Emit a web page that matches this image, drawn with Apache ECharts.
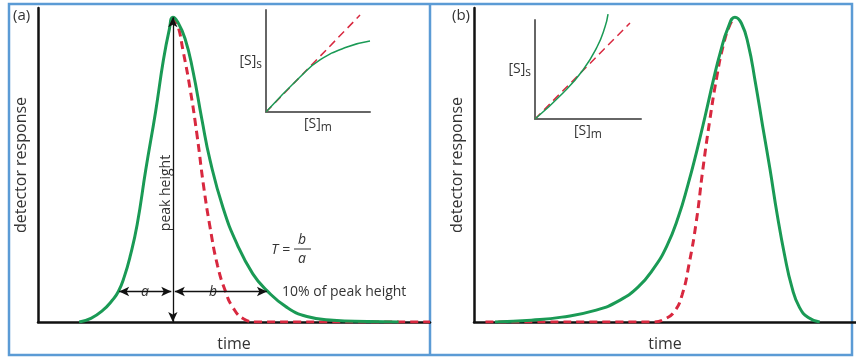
<!DOCTYPE html>
<html>
<head>
<meta charset="utf-8">
<script src="https://cdn.jsdelivr.net/npm/echarts@6/dist/echarts.min.js"></script>
<style>
  html, body { margin: 0; padding: 0; background: #fff; }
  #chart { width: 856px; height: 357px; }
</style>
</head>
<body>
<div id="chart"></div>
<script>
// (a) tailing peak: [time, response % of peak]
const tailingPeak = [
  [10.5, 0], [13.5, 1.2], [16.5, 3.8], [19, 7.2], [20.5, 10], [22, 14.8], [23.5, 21.5],
  [25.3, 32], [27.5, 50], [30, 69], [32, 86], [33.5, 96], [34.4, 100], [35.6, 98.5],
  [37.5, 93], [39.5, 82.5], [41.8, 66.5], [43.9, 53], [47.2, 37.5], [50.8, 25.5],
  [54.8, 15.8], [58.4, 10.3], [63.5, 4.8], [68.6, 1.8], [75.3, 0.6], [84, 0.2], [92, 0]
];
const idealA = [
  [34.4, 100], [35.6, 97.5], [37.0, 89], [38.8, 76.5], [40.6, 61], [42.2, 45],
  [43.9, 31], [45.8, 18.5], [47.7, 10.5], [49.7, 4.8], [52.5, 1], [55.9, 0], [100, 0]
];
// (b) fronting peak
const frontingPeak = [
  [5.5, 0], [15, 0.6], [23, 1.6], [32, 3.9], [38, 7], [43, 11.5], [47, 17.5],
  [50.5, 25], [53.5, 34.5], [56, 45], [58.3, 56], [60.5, 67.5], [62.6, 79],
  [64.5, 88.5], [66.5, 96.5], [68.3, 100], [70, 98], [71.8, 91], [73.6, 79],
  [75.6, 64], [77.5, 50], [79.4, 35], [81.3, 22], [83.2, 11.5], [85.2, 4.8],
  [87.5, 1.5], [90.5, 0]
];
const idealB = [
  [3, 0], [47, 0], [50, 1], [52.5, 3.5], [54.5, 9], [56.3, 19], [58.2, 33], [59.9, 50],
  [61.7, 66], [63.5, 80], [65.3, 91], [67, 97.5], [68.3, 100]
];
// insets: [S]s vs [S]m
const isothermA = [[0, 0], [32.7, 34.3], [51.9, 51], [77.9, 63.7], [100, 69.6]];
const linearA = [[0, 0], [90.4, 95]];
const isothermB = [[0, 0], [26.4, 26.3], [45.3, 49.5], [58.5, 72.7], [66, 92.9], [68.9, 106]];
const linearB = [[0, 0], [89.6, 97]];

const GREEN = '#1a9a55';
const RED = '#d8283f';
const FONT = 'Open Sans';

const chart = echarts.init(document.getElementById('chart'));

const mainX = (i, name) => ({
  gridIndex: i, type: 'value', min: 0, max: 100,
  name: name, nameLocation: 'middle', nameGap: 14,
  nameTextStyle: { fontFamily: FONT, fontSize: 16, color: '#333' },
  axisLine: { onZero: false, lineStyle: { color: '#111', width: 2.5 } },
  axisTick: { show: false }, axisLabel: { show: false }, splitLine: { show: false }
});
const mainY = (i) => ({
  gridIndex: i, type: 'value', min: 0, max: 103,
  name: 'detector response', nameLocation: 'middle', nameGap: 9,
  nameTextStyle: { fontFamily: FONT, fontSize: 16, color: '#333' },
  axisLine: { show: true, lineStyle: { color: '#111', width: 2.5 } },
  axisTick: { show: false }, axisLabel: { show: false }, splitLine: { show: false }
});
const insetX = (i) => ({
  gridIndex: i, type: 'value', min: 0, max: 100,
  name: '[S]{s|m}', nameLocation: 'middle', nameGap: 3,
  nameTextStyle: { fontFamily: FONT, fontSize: 14, color: '#333', rich: { s: { fontSize: 12, padding: [7, 0, 0, 0] } } },
  axisLine: { onZero: false, lineStyle: { color: '#666', width: 2 } },
  axisTick: { show: false }, axisLabel: { show: false }, splitLine: { show: false }
});
const insetY = (i) => ({
  gridIndex: i, type: 'value', min: 0, max: 100,
  name: '[S]{s|s}', nameLocation: 'middle', nameGap: 4, nameRotate: 0,
  nameTextStyle: { fontFamily: FONT, fontSize: 14, color: '#333', align: 'right', rich: { s: { fontSize: 12, padding: [7, 0, 0, 0] } } },
  axisLine: { show: true, lineStyle: { color: '#666', width: 2 } },
  axisTick: { show: false }, axisLabel: { show: false }, splitLine: { show: false }
});

const line = (xi, data, color, dashed, width) => ({
  type: 'line', xAxisIndex: xi, yAxisIndex: xi, data: data,
  smooth: 0.5, showSymbol: false, symbol: 'none',
  lineStyle: { color: color, width: width, type: dashed ? [8, 5] : 'solid' },
  silent: true, animation: false
});

const arrowStyle = { color: '#111', width: 1.3, type: 'solid' };

const option = {
  animation: false,
  grid: [
    { left: 38, width: 392, top: 8, height: 319 },
    { left: 474, width: 382, top: 8, height: 319 },
    { left: 266, width: 104, top: 10, height: 102 },
    { left: 535, width: 106, top: 20, height: 99 }
  ],
  xAxis: [mainX(0, 'time'), mainX(1, 'time'), insetX(2), insetX(3)],
  yAxis: [mainY(0), mainY(1), insetY(2), insetY(3)],
  series: [
    line(0, idealA, RED, true, 3),
    Object.assign(line(0, tailingPeak, GREEN, false, 3), {
      markLine: {
        silent: true, symbol: ['arrow', 'arrow'], symbolSize: [7, 10],
        label: { show: false }, lineStyle: arrowStyle,
        data: [
          [{ coord: [34.4, 100] }, { coord: [34.4, 0] }],
          [{ coord: [20.7, 10] }, { coord: [34.0, 10] }],
          [{ coord: [34.9, 10] }, { coord: [58.4, 10] }]
        ]
      }
    }),
    line(1, idealB, RED, true, 3),
    line(1, frontingPeak, GREEN, false, 3),
    line(2, linearA, RED, true, 1.5),
    line(2, isothermA, GREEN, false, 1.5),
    line(3, linearB, RED, true, 1.5),
    Object.assign(line(3, isothermB, GREEN, false, 1.5), { clip: false })
  ],
  graphic: [
    { type: 'rect', shape: { x: 9, y: 4, width: 843, height: 351 }, style: { fill: 'none', stroke: '#5b9bd5', lineWidth: 2.5 }, silent: true },
    { type: 'line', shape: { x1: 430, y1: 4, x2: 430, y2: 355 }, style: { stroke: '#5b9bd5', lineWidth: 2.5 }, silent: true },
    { type: 'text', left: 13, top: 8, style: { text: '(a)', font: '15px ' + FONT, fill: '#333' } },
    { type: 'text', left: 452, top: 8, style: { text: '(b)', font: '15px ' + FONT, fill: '#333' } },
    { type: 'text', x: 166, y: 193, rotation: Math.PI / 2, style: { text: 'peak height', font: '14px ' + FONT, fill: '#333', align: 'center', verticalAlign: 'middle' } },
    { type: 'text', x: 145, y: 292, style: { text: 'a', font: 'italic 14px ' + FONT, fill: '#333', align: 'center', verticalAlign: 'middle', backgroundColor: '#fff', padding: [0, 2] } },
    { type: 'text', x: 213, y: 292, style: { text: 'b', font: 'italic 14px ' + FONT, fill: '#333', align: 'center', verticalAlign: 'middle', backgroundColor: '#fff', padding: [0, 2] } },
    { type: 'text', x: 282, y: 292, style: { text: '10% of peak height', font: '14px ' + FONT, fill: '#333', verticalAlign: 'middle' } },
    { type: 'text', x: 290, y: 250, style: { text: 'T =', font: 'italic 14px ' + FONT, fill: '#333', align: 'right', verticalAlign: 'middle' } },
    { type: 'text', x: 302, y: 240, style: { text: 'b', font: 'italic 14px ' + FONT, fill: '#333', align: 'center', verticalAlign: 'middle' } },
    { type: 'line', shape: { x1: 294, y1: 249, x2: 311, y2: 249 }, style: { stroke: '#333', lineWidth: 1 } },
    { type: 'text', x: 302, y: 259, style: { text: 'a', font: 'italic 14px ' + FONT, fill: '#333', align: 'center', verticalAlign: 'middle' } }
  ]
};

chart.setOption(option);
</script>
</body>
</html>
